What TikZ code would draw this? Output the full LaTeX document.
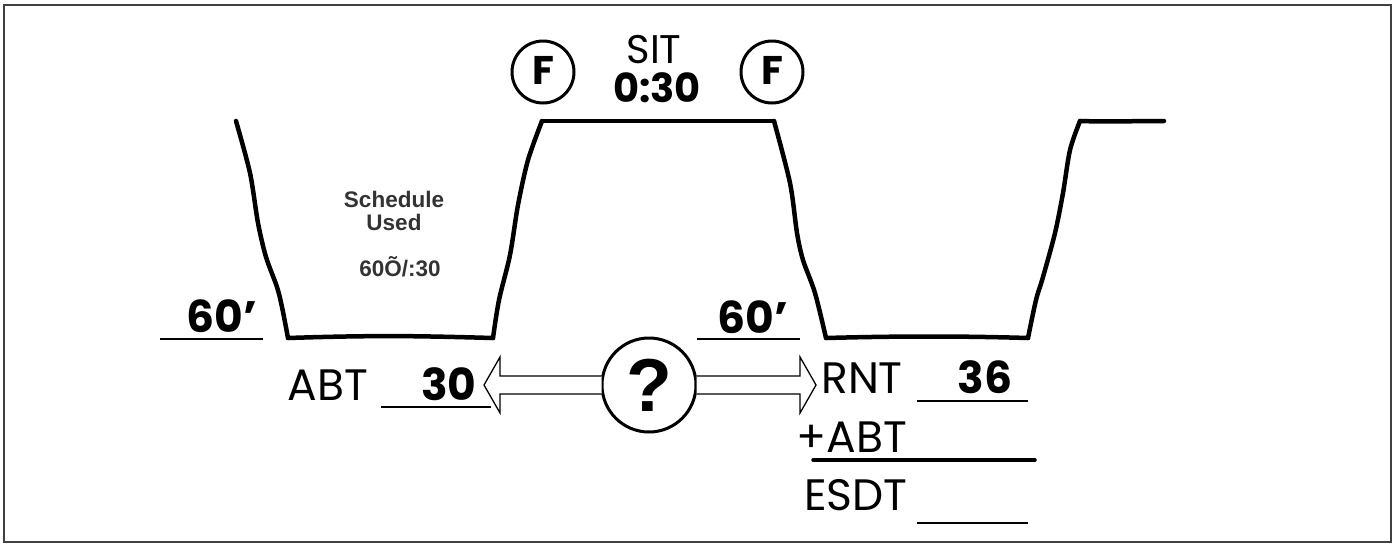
\documentclass[tikz,border=0pt]{standalone}
\usepackage{fontspec}
\setmainfont{Poppins}
\newfontfamily\arialf{Liberation Sans}
\usetikzlibrary{calc}
\tikzset{
  wall/.style={line width=4.5pt, line cap=round, line join=round},
  hand/.style={font=\fontsize{44}{44}\selectfont, anchor=base, inner sep=0pt, text height=30pt, text depth=0pt},
  handb/.style={font=\fontsize{44}{44}\selectfont\bfseries, anchor=base, inner sep=0pt, text height=30pt, text depth=0pt},
  uline/.style={line width=1.6pt},
  fcirc/.style={circle, draw, line width=3pt, minimum size=62pt, inner sep=0pt},
  note/.style={font=\arialf\bfseries\fontsize{22.5}{22.5}\selectfont, text=black!80, anchor=base, inner sep=0pt},
  harrow/.style={draw, line width=1.3pt, line join=miter, fill=white},
}
\begin{document}
\begin{tikzpicture}[x=1pt, y=-1pt]
\useasboundingbox (0,0) rectangle (1393,544);
\draw[line width=2pt, black!75] (4,5) rectangle (1391,542);

% profile
\draw[wall] plot[smooth, tension=0.5] coordinates {(236,121) (250,173) (258,223) (266,257) (277,287) (282,307) (288,338)};
\draw[wall] (288,338) .. controls (380,335) and (420,336) .. (493,338);
\draw[wall] plot[smooth, tension=0.5] coordinates {(493,338) (499,300) (510,255) (518,205) (528,160) (542,121)};
\draw[wall] (542,121) -- (774,121);
\draw[wall] plot[smooth, tension=0.5] coordinates {(774,121) (790,183) (797,233) (803,260) (815,293) (826,338)};
\draw[wall] (826,338) .. controls (900,336) and (960,336) .. (1028,338);
\draw[wall] plot[smooth, tension=0.5] coordinates {(1028,338) (1036,300) (1043,277) (1055,233) (1063,193) (1070,150) (1080,121)};
\draw[wall] (1080,121) .. controls (1110,122) and (1130,121) .. (1164,121);

% SIT
\node[hand, font=\fontsize{40}{40}\selectfont, text height=27pt] (sit) at (654,63) {SIT};
\node[handb, font=\fontsize{40}{40}\selectfont\bfseries, text height=27pt] (sittime) at (657,102) {0:30};
\node[fcirc] (f1) at (543,72) {};
\node[fcirc] (f2) at (772,72) {};
\node[font=\fontsize{40}{40}\selectfont\bfseries, anchor=base, inner sep=0pt] (f1t) at (543,84) {F};
\node[font=\fontsize{40}{40}\selectfont\bfseries, anchor=base, inner sep=0pt] (f2t) at (772,84) {F};

% schedule note
\node[note] (sch) at (394,207) {Schedule};
\node[note] (used) at (394,230) {Used};
\node[note] (val) at (400,276) {60Õ/:30};

% depths
\node[handb] (d1) at (222,332) {60'};
\coordinate (d1a) at (160,339); \coordinate (d1b) at (263,339);
\draw[uline] (d1a) -- (d1b);
\node[handb] (d2) at (753,333) {60'};
\coordinate (d2a) at (697,339); \coordinate (d2b) at (800,339);
\draw[uline] (d2a) -- (d2b);

% question and arrows
\node[circle, draw, line width=3pt, minimum size=94pt, inner sep=0pt] (q) at (649,385) {};
\node[font=\arialf\bfseries\fontsize{75}{75}\selectfont, anchor=base, inner sep=0pt] (qt) at (649,411) {?};
\coordinate (ltip) at (484,385);
\coordinate (rtip) at (816,385);
\draw[harrow] ($(q.west)+(1,-9)$) -- ($(ltip)+(16,-9)$) -- ($(ltip)+(16,-28)$) -- (ltip) -- ($(ltip)+(16,28)$) -- ($(ltip)+(16,9)$) -- ($(q.west)+(1,9)$);
\draw[harrow] ($(q.east)+(-1,-9)$) -- ($(rtip)+(-16,-9)$) -- ($(rtip)+(-16,-28)$) -- (rtip) -- ($(rtip)+(-16,28)$) -- ($(rtip)+(-16,9)$) -- ($(q.east)+(-1,9)$);

% ABT
\node[hand] (abt) at (328,400) {ABT};
\node[handb] (abtv) at (449,400) {30};
\coordinate (u1a) at (381,407); \coordinate (u1b) at (491,407);
\draw[uline] (u1a) -- (u1b);

% RNT block
\node[hand] (rnt) at (862,393) {RNT};
\node[handb] (rntv) at (985,393) {36};
\coordinate (u2a) at (917,401); \coordinate (u2b) at (1028,401);
\draw[uline] (u2a) -- (u2b);
\node[hand] (pabt) at (852,452) {+ABT};
\coordinate (u3a) at (813,460); \coordinate (u3b) at (1035,460);
\draw[line width=3.5pt, line cap=round] (u3a) -- (u3b);
\node[hand] (esdt) at (856,510) {ESDT};
\coordinate (u4a) at (917,523); \coordinate (u4b) at (1028,523);
\draw[uline] (u4a) -- (u4b);
\end{tikzpicture}
\end{document}
